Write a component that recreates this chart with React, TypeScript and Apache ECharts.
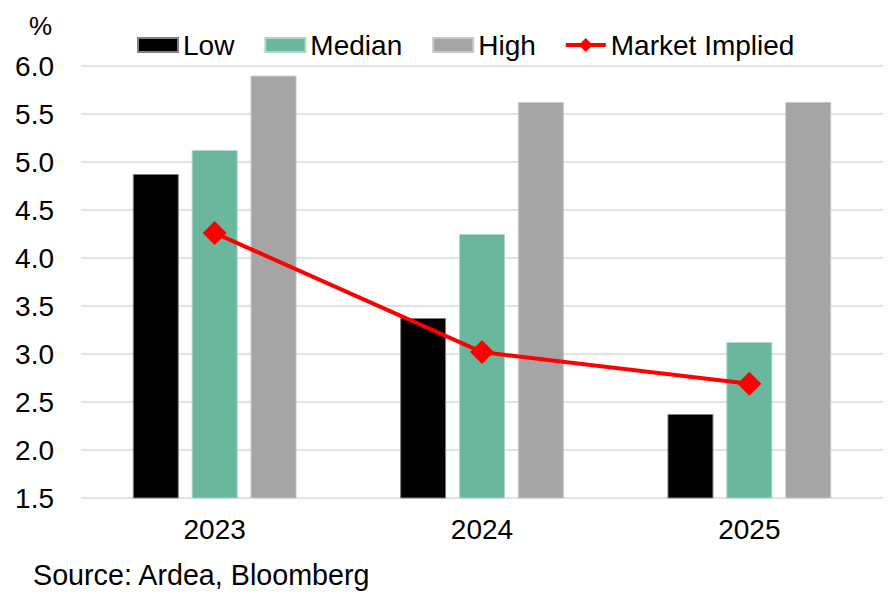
import React, { useEffect, useRef } from "react";
import * as echarts from "echarts";

const categories = ["2023", "2024", "2025"];
const lowValues = [4.875, 3.375, 2.375];
const medianValues = [5.125, 4.25, 3.125];
const highValues = [5.9, 5.625, 5.625];
const marketImplied = [4.26, 3.02, 2.69];

const FONT = "Liberation Sans, Arial, sans-serif";
const FS = 28;

const LINE_DIAMOND_ICON =
  "path://M0,5 L15,5 L20,0 L25,5 L40,5 L40,9 L25,9 L20,14 L15,9 L0,9 Z";

export default function App() {
  const ref = useRef<HTMLDivElement>(null);
  useEffect(() => {
    if (!ref.current) return;
    const chart = echarts.init(ref.current, undefined, { renderer: "svg" });
    chart.setOption({
      animation: false,
      textStyle: { fontFamily: FONT },
      grid: { left: 81, right: 9, top: 66, bottom: 97 },
      legend: {
        left: 132,
        top: 26,
        itemWidth: 40,
        itemHeight: 14,
        itemGap: 30,
        textStyle: { fontSize: FS, color: "#000", fontFamily: FONT },
        data: [
          { name: "Low", icon: "rect" },
          { name: "Median", icon: "rect" },
          { name: "High", icon: "rect" },
          { name: "Market Implied", icon: LINE_DIAMOND_ICON, itemStyle: { color: "#ff0000", borderWidth: 0 } },
        ],
      },
      xAxis: {
        type: "category",
        data: categories,
        axisLine: { show: false },
        axisTick: { show: false },
        axisLabel: { fontSize: FS, color: "#000", margin: 17, fontFamily: FONT },
      },
      yAxis: {
        type: "value",
        min: 1.5,
        max: 6.0,
        interval: 0.5,
        name: "%",
        nameLocation: "end",
        nameGap: 27,
        nameTextStyle: { fontSize: FS - 2, color: "#000", align: "right", padding: [0, 29, 0, 0], fontFamily: FONT },
        axisLabel: {
          fontSize: FS,
          color: "#000",
          margin: 27,
          fontFamily: FONT,
          formatter: (v: number) => v.toFixed(1),
        },
        splitLine: { lineStyle: { color: "#d9d9d9", width: 1.5 } },
      },
      series: [
        {
          name: "Low",
          type: "bar",
          data: lowValues,
          barWidth: 46,
          barGap: "28%",
          itemStyle: { color: "#000000", borderColor: "#808080", borderWidth: 1 },
        },
        {
          name: "Median",
          type: "bar",
          data: medianValues,
          barWidth: 46,
          barGap: "28%",
          itemStyle: { color: "#6bb79e", borderColor: "#a8d8c6", borderWidth: 1 },
        },
        {
          name: "High",
          type: "bar",
          data: highValues,
          barWidth: 46,
          barGap: "28%",
          itemStyle: { color: "#a5a5a5", borderColor: "#c8c8c8", borderWidth: 1 },
        },
        {
          name: "Market Implied",
          type: "line",
          data: marketImplied,
          symbol: "diamond",
          symbolSize: 24,
          lineStyle: { color: "#ff0000", width: 4 },
          itemStyle: { color: "#ff0000" },
          z: 5,
        },
      ],
      graphic: [
        {
          type: "text",
          left: 33,
          top: 560,
          style: { text: "Source: Ardea, Bloomberg", fontSize: 28.7, fill: "#000", fontFamily: FONT },
        },
      ],
    });
    return () => chart.dispose();
  }, []);
  return <div ref={ref} style={{ width: 892, height: 595, position: "absolute", left: 0, top: 0 }} />;
}
